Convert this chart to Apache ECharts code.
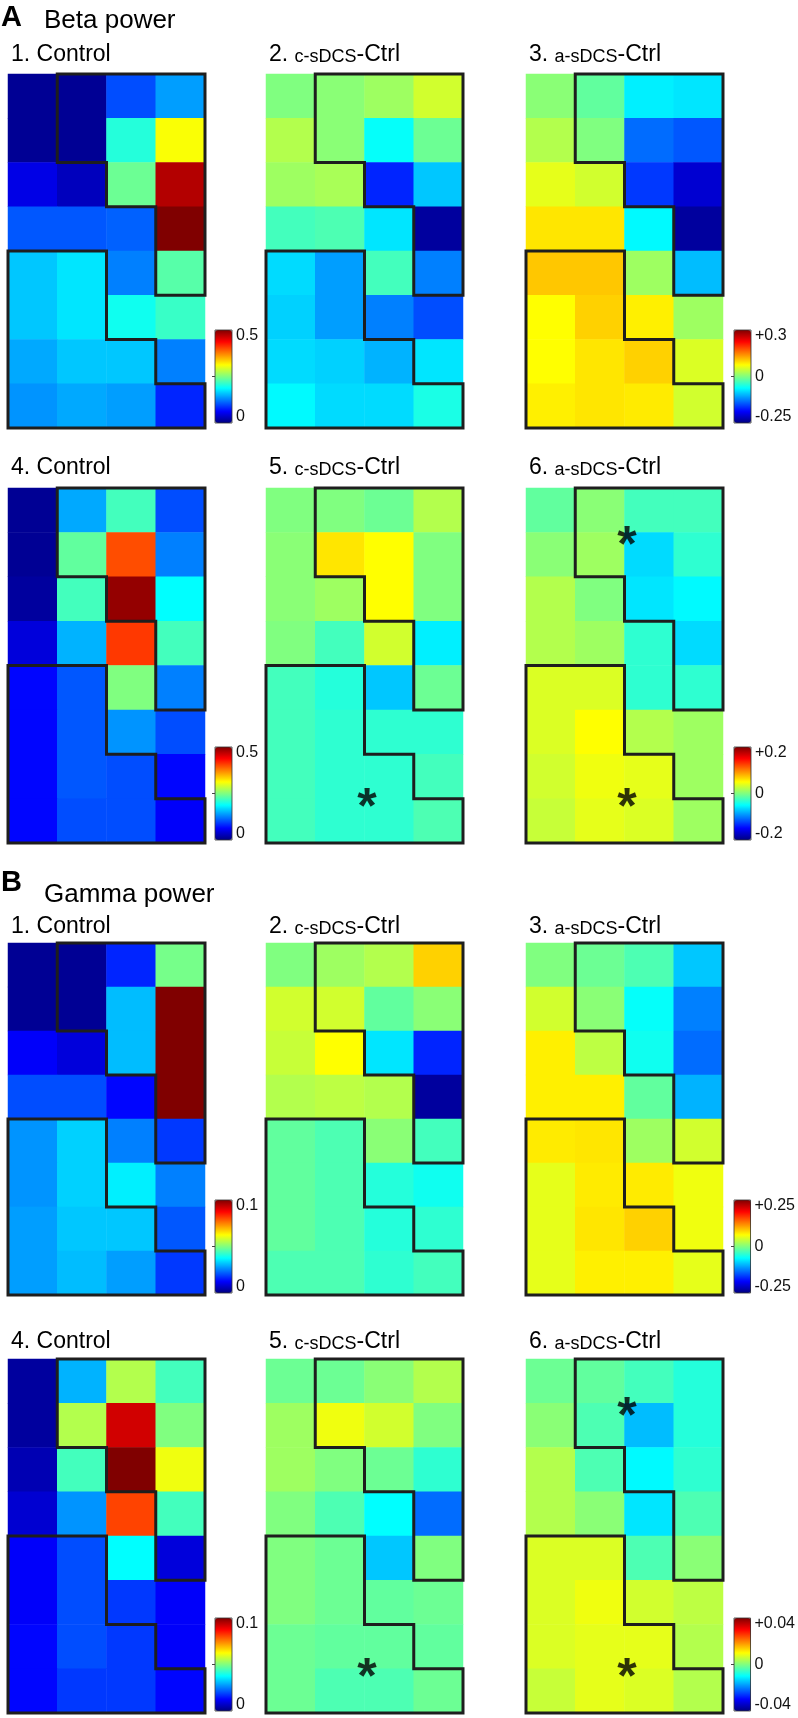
<!DOCTYPE html>
<html><head><meta charset="utf-8">
<script src="https://cdn.jsdelivr.net/npm/echarts@6/dist/echarts.min.js"></script>
<style>html,body{margin:0;padding:0;background:#fff}#c{width:798px;height:1718px}</style>
</head><body><div id="c"></div>
<script>
// ---------- categories ----------
const columns = ['c1', 'c2', 'c3', 'c4'];
const rows = ['r1', 'r2', 'r3', 'r4', 'r5', 'r6', 'r7', 'r8'];

// ---------- Beta power, top row (8 rows x 4 columns) ----------
const betaControl1 = [
  [0.01, 0.01, 0.10, 0.14],
  [0.01, 0.01, 0.205, 0.31],
  [0.05, 0.03, 0.24, 0.475],
  [0.105, 0.105, 0.11, 0.5],
  [0.16, 0.175, 0.125, 0.23],
  [0.16, 0.175, 0.195, 0.215],
  [0.145, 0.16, 0.16, 0.125],
  [0.135, 0.145, 0.14, 0.08]
];
const betaCathodal1 = [
  [0.0, 0.006, 0.018, 0.048],
  [0.03, 0.006, -0.072, -0.012],
  [0.018, 0.024, -0.204, -0.108],
  [-0.036, -0.03, -0.09, -0.282],
  [-0.096, -0.132, -0.036, -0.15],
  [-0.102, -0.132, -0.15, -0.18],
  [-0.096, -0.102, -0.12, -0.09],
  [-0.078, -0.096, -0.096, -0.06]
];
const betaAnodal1 = [
  [0.006, -0.018, -0.084, -0.09],
  [0.03, 0.0, -0.162, -0.174],
  [0.06, 0.048, -0.192, -0.252],
  [0.09, 0.09, -0.078, -0.282],
  [0.108, 0.108, 0.018, -0.114],
  [0.075, 0.102, 0.084, 0.018],
  [0.075, 0.09, 0.102, 0.054],
  [0.084, 0.09, 0.087, 0.048]
];
// ---------- Beta power, bottom row ----------
const betaControl2 = [
  [0.01, 0.145, 0.22, 0.10],
  [0.01, 0.235, 0.40, 0.125],
  [0.015, 0.22, 0.49, 0.1875],
  [0.045, 0.15, 0.41, 0.22],
  [0.065, 0.105, 0.25, 0.125],
  [0.065, 0.105, 0.135, 0.10],
  [0.065, 0.105, 0.10, 0.065],
  [0.065, 0.10, 0.10, 0.06]
];
const betaCathodal2 = [
  [0.0, 0.0, -0.008, 0.02],
  [0.004, 0.06, 0.05, 0.0],
  [0.004, 0.012, 0.05, 0.0],
  [0.0, -0.024, 0.032, -0.056],
  [-0.024, -0.036, -0.072, -0.008],
  [-0.024, -0.032, -0.032, -0.032],
  [-0.024, -0.032, -0.032, -0.024],
  [-0.024, -0.032, -0.032, -0.02]
];
const betaAnodal2 = [
  [-0.012, 0.004, -0.024, -0.024],
  [0.004, 0.012, -0.064, -0.032],
  [0.02, 0.0, -0.06, -0.052],
  [0.02, 0.012, -0.032, -0.064],
  [0.036, 0.036, -0.032, -0.032],
  [0.036, 0.05, 0.02, 0.012],
  [0.032, 0.044, 0.04, 0.012],
  [0.028, 0.04, 0.036, 0.012]
];
// ---------- Gamma power, top row ----------
const gammaControl1 = [
  [0.002, 0.002, 0.016, 0.049],
  [0.002, 0.002, 0.031, 0.1],
  [0.012, 0.009, 0.031, 0.1],
  [0.02, 0.02, 0.013, 0.1],
  [0.027, 0.033, 0.025, 0.018],
  [0.027, 0.033, 0.036, 0.025],
  [0.028, 0.032, 0.032, 0.021],
  [0.028, 0.031, 0.028, 0.018]
];
const gammaCathodal1 = [
  [0.0, 0.015, 0.025, 0.085],
  [0.04, 0.04, -0.015, 0.005],
  [0.035, 0.0625, -0.075, -0.17],
  [0.025, 0.03, 0.025, -0.235],
  [-0.015, -0.025, 0.005, -0.03],
  [-0.015, -0.025, -0.045, -0.055],
  [-0.015, -0.025, -0.045, -0.04],
  [-0.025, -0.025, -0.04, -0.03]
];
const gammaAnodal1 = [
  [0.0, -0.01, -0.025, -0.09],
  [0.04, 0.005, -0.06, -0.125],
  [0.07, 0.03, -0.055, -0.135],
  [0.07, 0.07, -0.015, -0.1],
  [0.0725, 0.075, 0.015, 0.04],
  [0.05, 0.0725, 0.0725, 0.055],
  [0.05, 0.075, 0.085, 0.055],
  [0.05, 0.07, 0.07, 0.05]
];
// ---------- Gamma power, bottom row ----------
const gammaControl2 = [
  [0.003, 0.03, 0.055, 0.044],
  [0.003, 0.055, 0.092, 0.05],
  [0.005, 0.044, 0.1, 0.061],
  [0.008, 0.027, 0.081, 0.044],
  [0.012, 0.02, 0.0375, 0.009],
  [0.012, 0.02, 0.018, 0.012],
  [0.013, 0.02, 0.018, 0.012],
  [0.013, 0.018, 0.018, 0.013]
];
const gammaCathodal2 = [
  [-0.0016, -0.0016, 0.0008, 0.004],
  [0.0024, 0.0088, 0.0064, 0.0],
  [0.0024, 0.0, -0.0016, -0.0064],
  [0.0, -0.004, -0.01, -0.0216],
  [0.0, -0.0016, -0.0144, 0.0],
  [0.0, -0.0016, -0.0024, -0.0016],
  [-0.0016, -0.0024, -0.0024, -0.0024],
  [-0.0016, -0.004, -0.004, -0.0016]
];
const gammaAnodal2 = [
  [-0.0016, -0.0024, -0.0048, -0.0072],
  [0.0008, -0.004, -0.0152, -0.0072],
  [0.004, -0.004, -0.0104, -0.0064],
  [0.004, 0.0008, -0.012, -0.004],
  [0.0072, 0.0072, -0.004, 0.0008],
  [0.0072, 0.0088, 0.0064, 0.0048],
  [0.0072, 0.008, 0.008, 0.004],
  [0.0056, 0.008, 0.0072, 0.004]
];

// ---------- colour scale ranges and tick labels ----------
const betaControlRange = [0, 0.5];
const betaDiffRange1 = [-0.3, 0.3];
const betaDiffRange2 = [-0.2, 0.2];
const gammaControlRange = [0, 0.1];
const gammaDiffRange1 = [-0.25, 0.25];
const gammaDiffRange2 = [-0.04, 0.04];

const betaControlTicks = ['0', '0.5'];
const betaDiffTicks1 = ['-0.25', '0', '+0.3'];
const betaDiffTicks2 = ['-0.2', '0', '+0.2'];
const gammaControlTicks = ['0', '0.1'];
const gammaDiffTicks1 = ['-0.25', '0', '+0.25'];
const gammaDiffTicks2 = ['-0.04', '0', '+0.04'];

// ---------- region outlines (grid units: column, row) ----------
const regionUpper = [[1,0],[4,0],[4,5],[3,5],[3,3],[2,3],[2,2],[1,2],[1,0]];
const regionLower = [[0,4],[2,4],[2,6],[3,6],[3,7],[4,7],[4,8],[0,8],[0,4]];

// ---------- significance markers (grid units) ----------
const starsCathodal = [[2.05, 6.96]];
const starsAnodal = [[2.05, 1.07], [2.05, 6.96]];

// ---------- titles ----------
const sectionLetters = ['A', 'B'];
const sectionNames = ['Beta power', 'Gamma power'];
const panelPrefixes = [['1.', '2.', '3.'], ['4.', '5.', '6.']];
const panelNames = ['Control', 'c-sDCS', 'a-sDCS'];

const JET = ['#000080','#0000ff','#0080ff','#00ffff','#80ff80','#ffff00','#ff8000','#ff0000','#800000'];
const FONT = '"Liberation Sans", Arial, Helvetica, sans-serif';

// layout
const colLeft = [8, 266, 526];
const rowTop = [74, 488, 943, 1359];
const rowHeight = [354, 355, 352, 354];
const titleCenter = [55, 468, 927, 1342];
const barTop = [330, 747, 1200, 1618];
const panelW = 197, barW = 17, barH = 93;

const panelRows = [
  { data: [betaControl1, betaCathodal1, betaAnodal1], ranges: [betaControlRange, betaDiffRange1], ticks: [betaControlTicks, betaDiffTicks1], sub: 0, stars: false },
  { data: [betaControl2, betaCathodal2, betaAnodal2], ranges: [betaControlRange, betaDiffRange2], ticks: [betaControlTicks, betaDiffTicks2], sub: 1, stars: true },
  { data: [gammaControl1, gammaCathodal1, gammaAnodal1], ranges: [gammaControlRange, gammaDiffRange1], ticks: [gammaControlTicks, gammaDiffTicks1], sub: 0, stars: false },
  { data: [gammaControl2, gammaCathodal2, gammaAnodal2], ranges: [gammaControlRange, gammaDiffRange2], ticks: [gammaControlTicks, gammaDiffTicks2], sub: 1, stars: true }
];

const grid = [], xAxis = [], yAxis = [], series = [], visualMap = [], title = [];

function toCells(arr) {
  const out = [];
  arr.forEach((r, ri) => r.forEach((v, ci) => out.push([ci, ri, v])));
  return out;
}

// section titles
title.push({ text: sectionLetters[0], left: 1, top: 3, padding: 0, textStyle: { fontFamily: FONT, fontSize: 29, fontWeight: 'bold', color: '#000' } });
title.push({ text: sectionNames[0], left: 44, top: 8, padding: 0, textStyle: { fontFamily: FONT, fontSize: 26, fontWeight: 'normal', color: '#000' } });
title.push({ text: sectionLetters[1], left: 1, top: 868, padding: 0, textStyle: { fontFamily: FONT, fontSize: 29, fontWeight: 'bold', color: '#000' } });
title.push({ text: sectionNames[1], left: 44, top: 882, padding: 0, textStyle: { fontFamily: FONT, fontSize: 26, fontWeight: 'normal', color: '#000' } });

panelRows.forEach((pr, r) => {
  for (let c = 0; c < 3; c++) {
    const left = colLeft[c], top = rowTop[r], h = rowHeight[r];
    const gi = grid.length;
    grid.push({ left: left, top: top, width: panelW, height: h });
    const xc = xAxis.length;
    xAxis.push({ gridIndex: gi, type: 'category', data: columns, show: false });
    xAxis.push({ gridIndex: gi, type: 'value', min: 0, max: 4, show: false });
    const yc = yAxis.length;
    yAxis.push({ gridIndex: gi, type: 'category', data: rows, inverse: true, show: false });
    yAxis.push({ gridIndex: gi, type: 'value', min: 0, max: 8, inverse: true, show: false });

    const range = c === 0 ? pr.ranges[0] : pr.ranges[1];
    const si = series.length;
    series.push({ type: 'heatmap', xAxisIndex: xc, yAxisIndex: yc, data: toCells(pr.data[c]), silent: true, itemStyle: { borderWidth: 0 } });

    const showBar = c !== 1;
    const bx = left + panelW + (c === 0 ? 10 : 11);
    visualMap.push({
      type: 'continuous', seriesIndex: si, min: range[0], max: range[1],
      inRange: { color: JET }, show: showBar, calculable: false, hoverLink: false,
      left: bx, top: barTop[r], itemWidth: barW, itemHeight: barH, padding: 0, text: null,
      orient: 'vertical'
    });

    [regionUpper, regionLower].forEach(reg => {
      series.push({ type: 'line', xAxisIndex: xc + 1, yAxisIndex: yc + 1, data: reg, showSymbol: false, symbol: 'none', clip: false, silent: true, z: 5,
        lineStyle: { color: '#1e1e1e', width: 3, join: 'miter', cap: 'square' } });
    });

    if (pr.stars && c > 0) {
      series.push({ type: 'scatter', xAxisIndex: xc + 1, yAxisIndex: yc + 1, data: c === 1 ? starsCathodal : starsAnodal,
        symbol: 'circle', symbolSize: 1, itemStyle: { color: 'rgba(0,0,0,0)' }, silent: true, z: 6,
        label: { show: true, position: 'inside', formatter: '*', fontFamily: FONT, fontSize: 50, fontWeight: 'bold', color: '#000', offset: [0, 12] } });
    }

    if (showBar) {
      const ticks = c === 0 ? pr.ticks[0] : pr.ticks[1];
      const vals = ticks.length === 2 ? [range[0], range[1]] : [range[0], 0, range[1]];
      const mid = (range[0] + range[1]) / 2;
      const bg = grid.length;
      grid.push({ left: bx, top: barTop[r], width: barW, height: barH, show: true, borderColor: '#333', borderWidth: 0.8, backgroundColor: 'transparent', z: 10 });
      xAxis.push({ gridIndex: bg, type: 'value', show: false, min: 0, max: 1 });
      yAxis.push({
        gridIndex: bg, type: 'value', min: range[0], max: range[1], position: 'right', z: 10,
        axisLine: { show: false }, splitLine: { show: false },
        axisTick: { show: true, inside: true, length: 3, customValues: [mid], lineStyle: { color: '#444', width: 1 } },
        axisLabel: {
          show: true, customValues: vals, margin: 4, color: '#111', fontFamily: FONT, fontSize: 16,
          formatter: function (v) {
            const i = vals.indexOf(v);
            const t = ticks[i];
            if (v === range[1]) return '{t|' + t + '}';
            if (v === range[0]) return '{b|' + t + '}';
            return t;
          },
          rich: {
            t: { fontFamily: FONT, fontSize: 16, color: '#111', padding: [12, 0, 0, 0] },
            b: { fontFamily: FONT, fontSize: 16, color: '#111', padding: [0, 0, 12, 0] }
          }
        }
      });
    }

    // panel title
    const prefix = panelPrefixes[pr.sub][c];
    const txt = c === 0 ? '{L|' + prefix + ' ' + panelNames[0] + '}'
                        : '{L|' + prefix + ' }{S|' + panelNames[c] + '}{L|-Ctrl}';
    title.push({ text: txt, left: left + 3, top: titleCenter[r] - 12, padding: 0,
      textStyle: { fontWeight: 'normal', fontFamily: FONT, fontSize: 23, color: '#000', rich: {
        L: { fontFamily: FONT, fontSize: 23, fontWeight: 'normal', color: '#000', verticalAlign: 'bottom' },
        S: { fontFamily: FONT, fontSize: 18, fontWeight: 'normal', color: '#000', verticalAlign: 'bottom' }
      } } });
  }
});

const chart = echarts.init(document.getElementById('c'), null, { renderer: 'canvas' });
chart.setOption({ animation: false, backgroundColor: '#fff', title, grid, xAxis, yAxis, visualMap, series });
</script></body></html>
